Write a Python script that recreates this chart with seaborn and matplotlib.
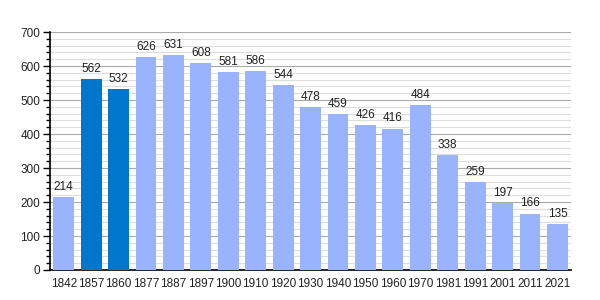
import matplotlib
matplotlib.use("Agg")
import matplotlib.pyplot as plt
import seaborn as sns
import pandas as pd
from matplotlib.ticker import MultipleLocator

years = ["1842", "1857", "1860", "1877", "1887", "1897", "1900", "1910", "1920", "1930",
         "1940", "1950", "1960", "1970", "1981", "1991", "2001", "2011", "2021"]
values = [214, 562, 532, 626, 631, 608, 581, 586, 544, 478,
          459, 426, 416, 484, 338, 259, 197, 166, 135]
highlight = ["1857", "1860"]

sns.set_theme(style="white")
plt.rcParams['font.family'] = ['Liberation Sans', 'DejaVu Sans']

df = pd.DataFrame({"year": years, "value": values})
df["kind"] = ["dark" if y in highlight else "light" for y in years]

fig = plt.figure(figsize=(6, 3), dpi=100)
ax = fig.add_axes([0.0833, 0.1, 0.8687, 0.7933])

sns.barplot(data=df, x="year", y="value", hue="kind", order=years,
            palette={"light": "#99b3ff", "dark": "#0077cc"}, dodge=False,
            width=0.76, legend=False, ax=ax, saturation=1, zorder=3,
            linewidth=0, edgecolor="none")

ax.set_ylim(0, 700)
ax.set_xlim(-0.5, len(years) - 0.5)
ax.yaxis.set_major_locator(MultipleLocator(100))
ax.yaxis.set_minor_locator(MultipleLocator(20))
ax.grid(which="major", axis="y", color="#aaaaaa", linewidth=0.8, zorder=0)
ax.grid(which="minor", axis="y", color="#dddddd", linewidth=0.8, zorder=0)
ax.set_axisbelow(True)
for s in ["top", "right"]:
    ax.spines[s].set_visible(False)
ax.spines["left"].set_color("black")
ax.spines["bottom"].set_color("black")
ax.spines["left"].set_linewidth(1.2)
ax.spines["bottom"].set_linewidth(1.2)
ax.tick_params(axis="y", which="major", left=True, length=5, width=1, color="black",
               labelsize=8.5, pad=2, labelcolor="#222222")
ax.tick_params(axis="y", which="minor", left=True, length=3, width=1, color="black")
ax.tick_params(axis="x", bottom=False, labelsize=8.5, pad=0, labelcolor="#222222")
ax.set_xlabel("")
ax.set_ylabel("")

for i, v in enumerate(values):
    ax.text(i, v + 12, str(v), ha="center", va="bottom", fontsize=8.5, color="#222222")

fig.savefig("out.png", dpi=100)
